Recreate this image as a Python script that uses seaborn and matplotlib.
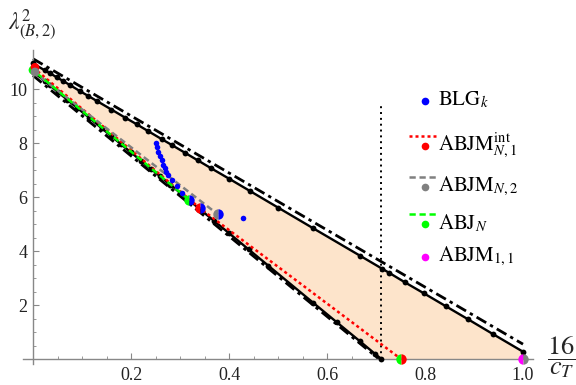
import numpy as np
import matplotlib
matplotlib.use("Agg")
import matplotlib.pyplot as plt
import seaborn as sns

# boundary dots
up_x = [0, 0.024, 0.035, 0.048, 0.062, 0.076, 0.096, 0.113, 0.13, 0.16, 0.188, 0.212, 0.235, 0.263, 0.283,
        0.31, 0.336, 0.363, 0.40, 0.443, 0.50, 0.572, 0.667, 0.712, 0.727, 0.759, 0.798, 0.842, 0.888, 0.939, 1.0]
up_y = [10.95, 10.69, 10.58, 10.44, 10.29, 10.14, 9.92, 9.74, 9.56, 9.24, 8.94, 8.69, 8.44, 8.14, 7.93,
        7.64, 7.36, 7.07, 6.68, 6.22, 5.61, 4.84, 3.83, 3.35, 3.19, 2.84, 2.43, 1.96, 1.47, 0.92, 0.27]
lo_x = [0, 0.024, 0.035, 0.05, 0.07, 0.09, 0.115, 0.14, 0.16, 0.18, 0.2, 0.22, 0.24, 0.26, 0.28, 0.30,
        0.32, 0.345, 0.37, 0.40, 0.44, 0.48, 0.572, 0.62, 0.667, 0.698, 0.711]
lo_y = [10.65, 10.29, 10.13, 9.90, 9.60, 9.30, 8.93, 8.55, 8.25, 7.95, 7.65, 7.35, 7.05, 6.76, 6.46, 6.16,
        5.86, 5.48, 5.11, 4.66, 4.06, 3.46, 2.08, 1.36, 0.66, 0.19, 0.0]
# dot-dashed bounds
dd_up_x, dd_up_y = [0, 1.0], [11.12, 0.55]
dd_lo_x, dd_lo_y = [0, 0.706], [10.5, 0.0]
vline_x, vline_top = 0.711, 9.4

# families
abjm1_x, abjm1_y = [0.0, 0.341, 0.751], [10.8, 5.58, 0.0]
abjm2_x, abjm2_y = [0.0, 0.377], [10.65, 5.36]
abj_x, abj_y = [0.0, 0.319], [10.7, 5.89]
blg_x = [0.251, 0.253, 0.256, 0.259, 0.263, 0.266, 0.269, 0.272, 0.276, 0.283, 0.293, 0.305, 0.428]
blg_y = [8.01, 7.85, 7.68, 7.52, 7.37, 7.2, 7.06, 6.93, 6.81, 6.63, 6.41, 6.16, 5.21]

# half-coloured points: x, y, left colour, right colour
half_x = [0.319, 0.341, 0.377, 0.751, 1.0]
half_y = [5.89, 5.58, 5.36, 0.0, 0.0]
half_left = ["#00ff00", "#ff0000", "#808080", "#00ff00", "#ff00ff"]
half_right = ["#0000ff", "#0000ff", "#0000ff", "#ff0000", "#808080"]
start_x = [0.0, 0.004, 0.004]
start_y = [10.7, 10.8, 10.63]
start_c = ["#00ff00", "#ff0000", "#808080"]

leg_labels = [r"$\mathrm{BLG}_k$", r"$\mathrm{ABJM}^{\mathrm{int}}_{N,1}$", r"$\mathrm{ABJM}_{N,2}$",
              r"$\mathrm{ABJ}_N$", r"$\mathrm{ABJM}_{1,1}$"]
leg_colors = ["#0000ff", "#ff0000", "#808080", "#00ff00", "#ff00ff"]
leg_lines = [None, (0, (1.2, 1.2)), (0, (2.5, 1.5)), (0, (2.5, 1.5)), None]

sns.set_theme(style="white")
plt.rcParams["font.family"] = ["Liberation Serif", "DejaVu Serif"]
plt.rcParams["mathtext.fontset"] = "stix"

fig = plt.figure(figsize=(5.76, 3.85), dpi=100)
ax = fig.add_axes([0.0403, 0.0535, 0.8847, 0.817])
ax.set_xlim(-0.02, 1.02)
ax.set_ylim(-0.2, 11.45)

# region
ax.fill(up_x + [1.0, 0.711] + lo_x[::-1], up_y + [0.0, 0.0] + lo_y[::-1],
        color="#fde4cb", lw=0, zorder=1)

sns.lineplot(x=dd_up_x, y=dd_up_y, color="black", lw=2, linestyle=(0, (4, 1.6, 1.2, 1.6)),
             estimator=None, sort=False, ax=ax, zorder=2)
sns.lineplot(x=dd_lo_x, y=dd_lo_y, color="black", lw=2, linestyle=(0, (4, 1.6, 1.2, 1.6)),
             estimator=None, sort=False, ax=ax, zorder=2)
sns.lineplot(x=up_x, y=up_y, color="black", lw=1.7, marker="o", markersize=4.2, markeredgewidth=0,
             estimator=None, sort=False, ax=ax, zorder=3)
sns.lineplot(x=lo_x, y=lo_y, color="black", lw=1.7, marker="o", markersize=4.2, markeredgewidth=0,
             estimator=None, sort=False, ax=ax, zorder=3)
ax.vlines(vline_x, 0, vline_top, color="black", lw=1.4, linestyle=(0, (1, 2)), zorder=3)

sns.lineplot(x=abjm1_x, y=abjm1_y, color="#ff0000", lw=1.8, linestyle=(0, (1.2, 1.2)),
             estimator=None, sort=False, ax=ax, zorder=4)
sns.lineplot(x=abjm2_x, y=abjm2_y, color="#808080", lw=1.8, linestyle=(0, (2.5, 1.5)),
             estimator=None, sort=False, ax=ax, zorder=4)
sns.lineplot(x=abj_x, y=abj_y, color="#00ff00", lw=1.8, linestyle=(2, (2.5, 1.5)),
             estimator=None, sort=False, ax=ax, zorder=4)

sns.scatterplot(x=blg_x, y=blg_y, color="#0000ff", s=16, linewidth=0, ax=ax, zorder=5)
sns.scatterplot(x=start_x, y=start_y, hue=start_c, palette={c: c for c in start_c}, s=40,
                linewidth=0, legend=False, ax=ax, zorder=5)
for x, y, cl, cr in zip(half_x, half_y, half_left, half_right):
    ax.plot(x, y, marker="o", markersize=7.5, fillstyle="left", markerfacecolor=cl,
            markerfacecoloralt=cr, markeredgewidth=0, linestyle="none", zorder=6, clip_on=False)

# mathematica-like axes through origin
for s in ["top", "right"]:
    ax.spines[s].set_visible(False)
for s in ["left", "bottom"]:
    ax.spines[s].set_position(("data", 0))
    ax.spines[s].set_color("#888888")
    ax.spines[s].set_linewidth(1)
ax.set_xticks([0.2, 0.4, 0.6, 0.8, 1.0])
ax.set_xticklabels(["0.2", "0.4", "0.6", "0.8", "1.0"])
ax.set_xticks(np.arange(0.05, 1.01, 0.05), minor=True)
ax.set_yticks([2, 4, 6, 8, 10])
ax.set_yticks(np.arange(0.5, 11.1, 0.5), minor=True)
ax.tick_params(which="both", direction="in", color="#888888", labelsize=13, labelcolor="#222222")
ax.tick_params(which="major", length=4, width=0.8)
ax.tick_params(which="minor", length=2.5, width=0.6)
ax.tick_params(axis="x", which="major", pad=6)
ax.tick_params(axis="y", which="major", pad=4)
ax.xaxis.set_ticks_position("bottom")
ax.yaxis.set_ticks_position("left")
ax.patch.set_alpha(0)

# overlay in pixel units for legend and axis labels
lax = fig.add_axes([0, 0, 1, 1])
lax.set_xlim(0, 576)
lax.set_ylim(385, 0)
lax.axis("off")
leg_y = [101, 146, 187, 224, 257]
for lab, c, ls, y in zip(leg_labels, leg_colors, leg_lines, leg_y):
    if ls is not None:
        lax.plot([409, 436], [y - 10, y - 10], color=c, lw=1.8, linestyle=ls)
    lax.plot(425, y, marker="o", color=c, markersize=5.5, markeredgewidth=0)
    lax.text(438, y - 1, lab, fontsize=15, va="center", ha="left", color="black")

lax.text(8, 25, r"$\lambda^2_{(B,2)}$", fontsize=17, ha="left", va="center")
lax.text(561, 357, r"$\dfrac{16}{c_T}$", fontsize=19, ha="center", va="center")

plt.savefig("out.png", dpi=100)
